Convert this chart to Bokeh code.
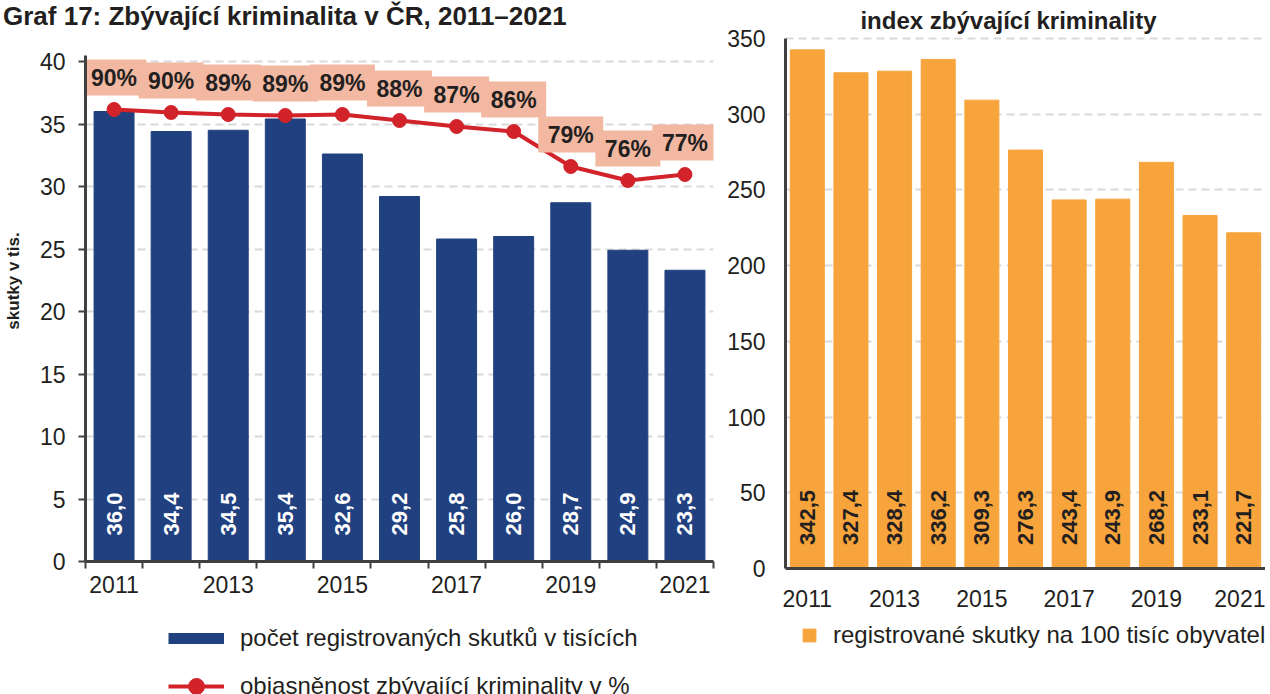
from math import pi
from bokeh.plotting import figure
from bokeh.models import Range1d, FixedTicker, Legend, LegendItem, Div
from bokeh.layouts import row, column
from bokeh.core.properties import value
from bokeh.embed import file_html
from bokeh.resources import INLINE

# ---------------- data ----------------
years = [2011, 2012, 2013, 2014, 2015, 2016, 2017, 2018, 2019, 2020, 2021]
offences_thousands = [36.0, 34.4, 34.5, 35.4, 32.6, 29.2, 25.8, 26.0, 28.7, 24.9, 23.3]
clearance_pct = [90.4, 89.8, 89.4, 89.2, 89.4, 88.2, 87.0, 86.0, 79.0, 76.2, 77.4]
clearance_labels = ["90%", "90%", "89%", "89%", "89%", "88%", "87%", "86%", "79%", "76%", "77%"]
offences_per_100k = [342.5, 327.4, 328.4, 336.2, 309.3, 276.3, 243.4, 243.9, 268.2, 233.1, 221.7]
left_y_ticks = [0, 5, 10, 15, 20, 25, 30, 35, 40]
right_y_ticks = [0, 50, 100, 150, 200, 250, 300, 350]
x_tick_labels = {y: (str(y) if y % 2 == 1 else "") for y in years}

page_title = "Graf 17: Zbývající kriminalita v ČR, 2011–2021"
left_ylabel = "skutky v tis."
right_title = "index zbývající kriminality"
legend_bars = "počet registrovaných skutků v tisících"
legend_line = "objasněnost zbývající kriminality v %"
legend_right = "registrované skutky na 100 tisíc obyvatel"


def fmt(v):
    return f"{v:.1f}".replace(".", ",")


FONT = "Liberation Sans"
TXT = "#231F20"
NAVY = "#21407F"
RED = "#D2232A"
SALMON = "#F2B8A2"
ORANGE = "#F7A43D"
GRID = "#D9D9D9"
AXIS = "#404040"

# frame geometry (px): left frame 561 high at 12.5 px per unit, right frame 568 high (530 px = 350)
LEFT_TOP = 561 / 12.5
RIGHT_TOP = 350 * 568 / 530


def style_common(p):
    p.outline_line_color = None
    p.background_fill_color = "white"
    p.border_fill_color = "white"
    p.xgrid.grid_line_color = None
    p.ygrid.grid_line_color = GRID
    p.ygrid.grid_line_dash = "8 5"
    p.ygrid.grid_line_width = 2
    for ax in (p.xaxis[0], p.yaxis[0]):
        ax.axis_line_color = AXIS
        ax.axis_line_width = 3
        ax.major_label_text_font = FONT
        ax.major_label_text_font_size = "23px"
        ax.major_label_text_color = TXT
        ax.minor_tick_line_color = None


# ---------------- left chart ----------------
p1 = figure(frame_width=628, frame_height=561, x_range=Range1d(2010.5, 2021.5),
            y_range=Range1d(0, LEFT_TOP), title=None,
            output_backend="svg", toolbar_location=None,
            min_border_left=84, min_border_right=3, min_border_top=0, min_border_bottom=50)
p1.extra_y_ranges = {"pct": Range1d(0, LEFT_TOP / 0.4)}
style_common(p1)

bars1 = p1.vbar(x=years, top=offences_thousands, width=0.7, color=NAVY)
p1.text(x=years, y=[3.8] * len(years), text=[fmt(v) for v in offences_thousands], angle=pi / 2,
        text_align="center", text_baseline="middle", text_color="white",
        text_font=value(FONT), text_font_style="bold", text_font_size="22px")

line = p1.line(years, clearance_pct, y_range_name="pct", color=RED, line_width=4)
circ = p1.scatter(years, clearance_pct, y_range_name="pct", size=14, color=RED)

box_y = [v + 6.4 for v in clearance_pct]
p1.rect(x=years, y=box_y, width=65, height=36, width_units="screen", height_units="screen",
        fill_color=SALMON, line_color=None, y_range_name="pct")
p1.text(x=years, y=box_y, text=clearance_labels, y_range_name="pct",
        text_align="center", text_baseline="middle", text_color=TXT,
        text_font=value(FONT), text_font_style="bold", text_font_size="23px")

xa = p1.xaxis[0]
xa.ticker = FixedTicker(ticks=years, minor_ticks=[2010.5 + i for i in range(12)])
xa.major_label_overrides = x_tick_labels
xa.major_tick_line_color = None
xa.major_tick_out = 0
xa.minor_tick_line_color = AXIS
xa.minor_tick_line_width = 2
xa.minor_tick_out = 7
xa.minor_tick_in = 0
xa.major_label_standoff = 7

ya = p1.yaxis[0]
ya.bounds = (0, 40.5)
ya.ticker = FixedTicker(ticks=left_y_ticks)
p1.ygrid.ticker = FixedTicker(ticks=left_y_ticks)
ya.major_tick_line_color = AXIS
ya.major_tick_line_width = 2
ya.major_tick_out = 7
ya.major_tick_in = 0
ya.major_label_standoff = 13
ya.axis_label = left_ylabel
ya.axis_label_text_font = FONT
ya.axis_label_text_font_style = "bold"
ya.axis_label_text_font_size = "17px"
ya.axis_label_text_color = TXT
ya.axis_label_standoff = 14

# ---------------- right chart ----------------
p2 = figure(frame_width=480, frame_height=568, x_range=Range1d(2010.5, 2021.5),
            y_range=Range1d(0, RIGHT_TOP), title=None,
            output_backend="svg", toolbar_location=None,
            min_border_left=69, min_border_right=0, min_border_top=0, min_border_bottom=50)
style_common(p2)

bars2 = p2.vbar(x=years, top=offences_per_100k, width=0.78, color=ORANGE)
p2.text(x=years, y=[33.7] * len(years), text=[fmt(v) for v in offences_per_100k], angle=pi / 2,
        text_align="center", text_baseline="middle", text_color=TXT,
        text_font=value(FONT), text_font_style="bold", text_font_size="22px")
p2.text(x=[2015.61], y=[RIGHT_TOP - 350 * 20 / 530], text=[right_title],
        text_align="center", text_baseline="middle", text_color=TXT,
        text_font=value(FONT), text_font_style="bold", text_font_size="24px")

xb = p2.xaxis[0]
xb.ticker = FixedTicker(ticks=years)
xb.major_label_overrides = x_tick_labels
xb.major_tick_line_color = None
xb.major_tick_out = 0
xb.major_label_standoff = 21

yb = p2.yaxis[0]
yb.bounds = (0, 350)
yb.ticker = FixedTicker(ticks=right_y_ticks)
p2.ygrid.ticker = FixedTicker(ticks=right_y_ticks)
yb.major_tick_line_color = None
yb.major_tick_out = 0
yb.major_label_standoff = 20


# ---------------- legend strips ----------------
def legend_strip(frame_width, left, right):
    f = figure(frame_width=frame_width, frame_height=76, x_range=Range1d(0, 1), y_range=Range1d(0, 1),
               title=None, x_axis_location=None, y_axis_location=None,
               output_backend="svg", toolbar_location=None,
               min_border_left=left, min_border_right=right, min_border_top=0, min_border_bottom=0)
    f.outline_line_color = None
    f.xgrid.grid_line_color = None
    f.ygrid.grid_line_color = None
    return f


# legend swatches (kept outside the strip's visible range; only their legend glyphs show)
l1 = legend_strip(628, 84, 3)
sw_bar = l1.line(x=[-10, -9], y=[-10, -10], color=NAVY, line_width=11)
sw_line = l1.line(x=[-10, -9], y=[-10, -10], color=RED, line_width=4)
sw_dot = l1.scatter(x=[-10], y=[-10], color=RED, size=14)
leg1 = Legend(items=[LegendItem(label=legend_bars, renderers=[sw_bar]),
                     LegendItem(label=legend_line, renderers=[sw_line, sw_dot])],
              location=(84, -12), orientation="vertical",
              glyph_width=56, glyph_height=40, spacing=8, label_standoff=16,
              padding=0, margin=0, border_line_color=None, background_fill_alpha=0,
              label_text_font=FONT, label_text_font_size="24px", label_text_color=TXT)
l1.add_layout(leg1)

l2 = legend_strip(486, 69, 0)
sw_orange = l2.vbar(x=[-10], top=[-10], width=0.5, color=ORANGE)
leg2 = Legend(items=[LegendItem(label=legend_right, renderers=[sw_orange])],
              location=(17, 45), glyph_width=16, glyph_height=16, label_standoff=16,
              padding=0, margin=0, border_line_color=None, background_fill_alpha=0,
              label_text_font=FONT, label_text_font_size="24px", label_text_color=TXT)
l2.add_layout(leg2)

# ---------------- page title, cut at the top edge as in the reference ----------------
title_div = Div(text=page_title, width=640, height=0,
                styles={"position": "absolute", "top": "-7px", "left": "-2px", "z-index": "10",
                        "white-space": "nowrap", "font-family": FONT, "font-size": "26px",
                        "font-weight": "bold", "color": TXT, "overflow": "visible"})

layout = column(title_div, row(p1, p2), row(l1, l2))

open("out.html", "w").write(file_html(layout, INLINE))
